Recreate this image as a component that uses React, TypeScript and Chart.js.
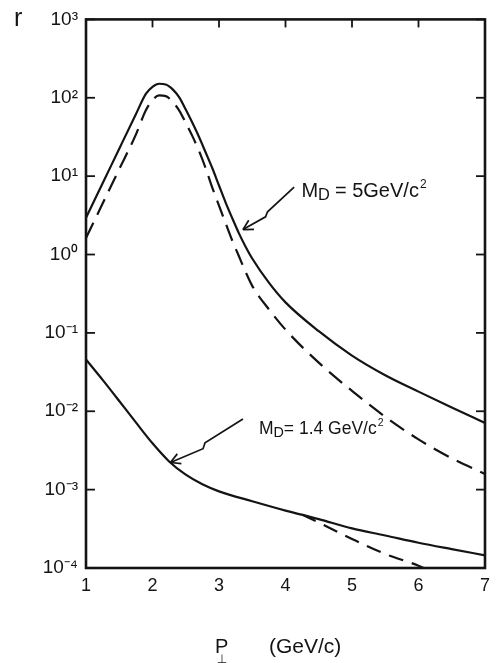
import React, { useEffect, useRef } from "react";
import { Chart, registerables } from "chart.js";

Chart.register(...registerables);

// ---- data ----
const pUpper = [1.0, 1.25, 1.5, 1.75, 1.9, 2.0, 2.1, 2.2, 2.3, 2.4, 2.5, 2.6, 2.7, 2.8, 2.9, 3.0, 3.1, 3.2, 3.3, 3.4, 3.5, 3.75, 4.0, 4.5, 5.0, 5.5, 6.0, 6.5, 7.0];
const rMd5Solid = [2.95, 8.1, 22.4, 61.7, 112, 138, 151, 148, 129, 102, 70.8, 47.9, 31.6, 20.0, 12.6, 7.6, 4.6, 2.9, 1.86, 1.26, 0.89, 0.437, 0.245, 0.105, 0.0513, 0.0288, 0.0178, 0.0112, 0.0071];
const rMd5Dashed = [1.62, 4.47, 12.3, 33.9, 69.2, 93.3, 107, 105, 89.1, 69.2, 47.9, 32.4, 20.9, 12.6, 7.1, 4.2, 2.5, 1.5, 0.95, 0.6, 0.398, 0.2, 0.11, 0.0417, 0.0182, 0.0085, 0.00437, 0.00251, 0.00158];

const pLower = [1.0, 1.25, 1.5, 1.75, 2.0, 2.25, 2.5, 2.75, 3.0, 3.5, 4.0, 4.5, 5.0, 5.5, 6.0, 6.5, 7.0];
const rMd14Solid = [0.0457, 0.0251, 0.0135, 0.0072, 0.0039, 0.00229, 0.00155, 0.00117, 0.00095, 0.00071, 0.00054, 0.00042, 0.00032, 0.00026, 0.00021, 0.000174, 0.000145];

const pLowerDashed = [4.25, 4.5, 5.0, 5.5, 6.0, 6.1];
const rMd14Dashed = [0.00048, 0.00038, 0.000235, 0.000151, 0.000107, 0.0000977];

const xTicks = [1, 2, 3, 4, 5, 6, 7];
const yTicks = [1e-4, 1e-3, 1e-2, 1e-1, 1, 10, 100, 1000];
const yTickLabels = ["10⁻⁴", "10⁻³", "10⁻²", "10⁻¹", "10⁰", "10¹", "10²", "10³"];

// annotations (data coordinates)
const md5Arrow: [number, number][] = [[4.13, 7.24], [3.73, 3.51], [3.7, 3.03], [3.36, 2.08]];
const md14Arrow: [number, number][] = [[3.36, 0.00796], [2.79, 0.00397], [2.76, 0.00333], [2.27, 0.00222]];
const md5LabelAt: [number, number] = [4.24, 5.4];
const md14LabelAt: [number, number] = [3.6, 0.00515];
const md5LabelText = "= 5GeV/c";
const md14LabelText = "= 1.4 GeV/c";

const INK = "#141414";
const FONT = '"Liberation Sans", Arial, sans-serif';

const pts = (xs: number[], ys: number[]) => xs.map((x, i) => ({ x, y: ys[i] }));

export default function App() {
  const ref = useRef<HTMLCanvasElement>(null);

  useEffect(() => {
    document.body.style.margin = "0";
    const canvas = ref.current!;
    const decor = {
      id: "decor",
      afterDraw(chart: any) {
        const { ctx, chartArea: a } = chart;
        const xs = chart.scales.x;
        const ys = chart.scales.y;
        const line = (x1: number, y1: number, x2: number, y2: number) => {
          ctx.beginPath();
          ctx.moveTo(x1, y1);
          ctx.lineTo(x2, y2);
          ctx.stroke();
        };
        ctx.save();
        ctx.strokeStyle = INK;
        ctx.fillStyle = INK;
        ctx.lineCap = "butt";
        ctx.lineWidth = 2.6;
        ctx.strokeRect(a.left, a.top, a.right - a.left, a.bottom - a.top);
        ctx.lineWidth = 1.8;
        for (const v of yTicks) {
          const py = ys.getPixelForValue(v);
          line(a.left, py, a.left + 9, py);
          line(a.right, py, a.right - 9, py);
        }
        for (const v of xTicks) {
          const px = xs.getPixelForValue(v);
          line(px, a.top, px, a.top + 8);
        }
        // arrows
        const drawArrow = (p: [number, number][]) => {
          const q = p.map(([u, v]) => [xs.getPixelForValue(u), ys.getPixelForValue(v)]);
          ctx.lineWidth = 1.7;
          ctx.lineJoin = "miter";
          ctx.beginPath();
          ctx.moveTo(q[0][0], q[0][1]);
          for (let i = 1; i < q.length; i++) ctx.lineTo(q[i][0], q[i][1]);
          ctx.stroke();
          const [tx, ty] = q[q.length - 1];
          const [sx, sy] = q[q.length - 2];
          const ang = Math.atan2(sy - ty, sx - tx);
          const L = 11;
          line(tx, ty, tx + L * Math.cos(ang + 0.5), ty + L * Math.sin(ang + 0.5));
          line(tx, ty, tx + L * Math.cos(ang - 0.5), ty + L * Math.sin(ang - 0.5));
        };
        drawArrow(md5Arrow);
        drawArrow(md14Arrow);
        // text helpers
        ctx.textBaseline = "alphabetic";
        ctx.textAlign = "left";
        const txt = (s: string, px: number, py: number, size: number, fam: string = FONT) => {
          ctx.font = `${size}px ${fam}`;
          ctx.fillText(s, px, py);
          return ctx.measureText(s).width;
        };
        const label = (at: [number, number], rest: string, size: number, gap: number) => {
          let cx = xs.getPixelForValue(at[0]);
          const by = ys.getPixelForValue(at[1]);
          cx += txt("M", cx, by, size);
          cx += txt("D", cx, by + 3, size * 0.82);
          cx += gap;
          cx += txt(rest, cx, by, size);
          txt("2", cx + 1, by - size * 0.45, size * 0.6);
        };
        label(md5LabelAt, md5LabelText, 20, 5);
        label(md14LabelAt, md14LabelText, 17.5, 0);
        // axis names
        txt("r", 14, 26, 25);
        txt("P", 215, 653, 20);
        ctx.textAlign = "center";
        txt("⊥", 222, 662.5, 12, '"DejaVu Sans", sans-serif');
        ctx.textAlign = "left";
        txt("(GeV/c)", 269, 653, 21);
        ctx.restore();
      },
    };

    const chart = new Chart(canvas, {
      type: "line",
      data: {
        datasets: [
          { data: pts(pUpper, rMd5Solid), borderColor: INK, borderWidth: 2.2, pointRadius: 0, cubicInterpolationMode: "monotone", fill: false },
          { data: pts(pUpper, rMd5Dashed), borderColor: INK, borderWidth: 2.2, borderDash: [17, 9], pointRadius: 0, cubicInterpolationMode: "monotone", fill: false },
          { data: pts(pLower, rMd14Solid), borderColor: INK, borderWidth: 2.2, pointRadius: 0, cubicInterpolationMode: "monotone", fill: false },
          { data: pts(pLowerDashed, rMd14Dashed), borderColor: INK, borderWidth: 2.2, borderDash: [15, 9], pointRadius: 0, cubicInterpolationMode: "monotone", fill: false },
        ],
      },
      options: {
        responsive: false,
        animation: false,
        events: [],
        layout: { padding: { top: 12, right: 3, left: 0, bottom: 0 } },
        plugins: { legend: { display: false }, tooltip: { enabled: false } },
        scales: {
          x: {
            type: "linear",
            min: 1,
            max: 7,
            grid: { display: false, drawTicks: false },
            border: { display: false },
            afterBuildTicks: (s: any) => {
              s.ticks = xTicks.map((v) => ({ value: v }));
            },
            afterFit: (s: any) => {
              s.height = 95;
            },
            ticks: { color: INK, font: { family: FONT, size: 18 }, padding: 7, autoSkip: false, maxRotation: 0 },
          },
          y: {
            type: "logarithmic",
            min: 1e-4,
            max: 1e3,
            grid: { display: false, drawTicks: false },
            border: { display: false },
            afterBuildTicks: (s: any) => {
              s.ticks = yTicks.map((v) => ({ value: v }));
            },
            afterFit: (s: any) => {
              s.width = 86;
            },
            ticks: {
              color: INK,
              font: { family: FONT, size: 19 },
              padding: 8,
              autoSkip: false,
              callback: (v: any) => {
                const i = yTicks.findIndex((t) => Math.abs(Math.log10(t) - Math.log10(Number(v))) < 1e-6);
                return i >= 0 ? yTickLabels[i] : "";
              },
            },
          },
        },
      },
      plugins: [decor],
    } as any);
    return () => chart.destroy();
  }, []);

  return (
    <div style={{ position: "relative", width: 497, height: 663, background: "#fff" }}>
      <canvas ref={ref} width={497} height={663} style={{ display: "block" }} />
    </div>
  );
}
